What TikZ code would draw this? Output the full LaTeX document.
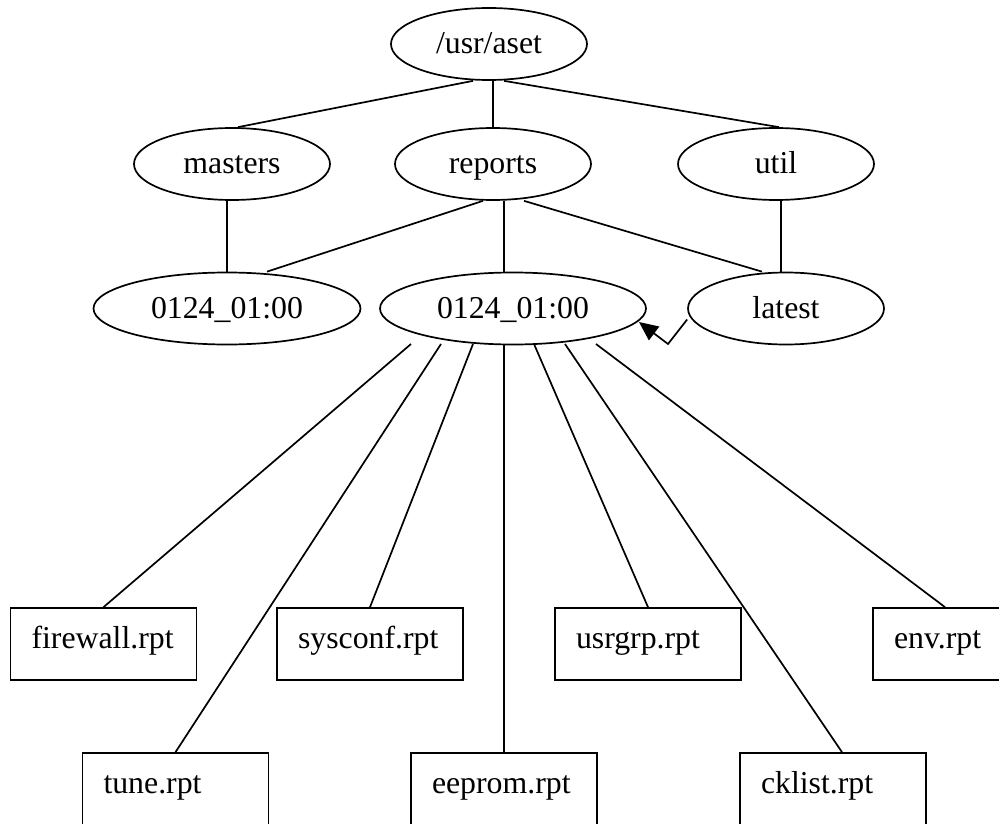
\documentclass[tikz,border=0pt]{standalone}
\usepackage{fontspec}
\setmainfont{Liberation Serif}
\usetikzlibrary{shapes.geometric,arrows.meta}
\begin{document}
\begin{tikzpicture}[x=1pt,y=-1pt,
  every node/.style={font=\fontsize{31.8}{38}\selectfont},
  dir/.style={ellipse, draw, line width=1.7pt, inner sep=0pt, minimum height=72pt,
              text height=24pt, text depth=5pt},
  rpt/.style={rectangle, draw, line width=1.7pt, inner xsep=21pt, inner ysep=0pt,
              text width=144pt, align=left, minimum height=72pt,
              text height=18pt, text depth=10pt},
  link/.style={line width=1.7pt},
  tip/.style={-{Triangle[length=19pt,width=17pt]}}]
\useasboundingbox (0,0) rectangle (999,824);
\clip (0,0) rectangle (999,824);

% directory tree
\node[dir, minimum width=196pt] (aset)    at (489,44)    {/usr/aset};
\node[dir, minimum width=196pt] (masters) at (232,164)   {masters};
\node[dir, minimum width=196pt] (reports) at (493,164)   {reports};
\node[dir, minimum width=196pt] (util)    at (776,164)   {util};
\node[dir, minimum width=267pt] (runA)    at (227,308.5) {0124\_01:00};
\node[dir, minimum width=266pt] (runB)    at (513,308.5) {0124\_01:00};
\node[dir, minimum width=196pt] (latest)  at (786,308.5) {latest};

% report files
\node[rpt] (firewall) at (103.5,644) {firewall.rpt};
\node[rpt] (sysconf)  at (370,644)   {sysconf.rpt};
\node[rpt] (usrgrp)   at (648,644)   {usrgrp.rpt};
\node[rpt] (env)      at (966,644)   {env.rpt};
\node[rpt] (tune)     at (175.5,789) {tune.rpt};
\node[rpt] (eeprom)   at (504,789)   {eeprom.rpt};
\node[rpt] (cklist)   at (833,789)   {cklist.rpt};

% upper edges
\draw[link] ([xshift=-16pt]aset.south) -- ([xshift=6pt]masters.north);
\draw[link] ([xshift=4pt]aset.south) -- (reports.north);
\draw[link] ([xshift=15pt]aset.south) -- ([xshift=3pt]util.north);
\draw[link] ([xshift=-5pt]masters.south) -- (runA.north);
\draw[link] ([xshift=-10pt]reports.south) -- ([xshift=40pt]runA.north);
\draw[link] ([xshift=11pt]reports.south) -- ([xshift=-9pt]runB.north);
\draw[link] ([xshift=31pt]reports.south) -- ([xshift=-24pt]latest.north);
\draw[link] ([xshift=5pt]util.south) -- ([xshift=-5pt]latest.north);

% symlink latest -> run
\coordinate (bend) at (668,344);
\draw[link, tip] ([yshift=-11pt]latest.west) -- (bend)
  -- ([xshift=126pt,yshift=-13.5pt]runB.center);

% fan-out of the report files
\coordinate (f1) at (411,344);
\coordinate (f2) at (441,344);
\coordinate (f3) at (473,344);
\coordinate (f4) at (504,344);
\coordinate (f5) at (534,344);
\coordinate (f6) at (565,344);
\coordinate (f7) at (596,344);
\draw[link] (f1) -- (firewall.north);
\draw[link] (f2) -- (tune.north);
\draw[link] (f3) -- (sysconf.north);
\draw[link] (f4) -- (eeprom.north);
\draw[link] (f5) -- (usrgrp.north);
\draw[link] (f6) -- ([xshift=9pt]cklist.north);
\draw[link] (f7) -- ([xshift=-21pt]env.north);
\end{tikzpicture}
\end{document}
